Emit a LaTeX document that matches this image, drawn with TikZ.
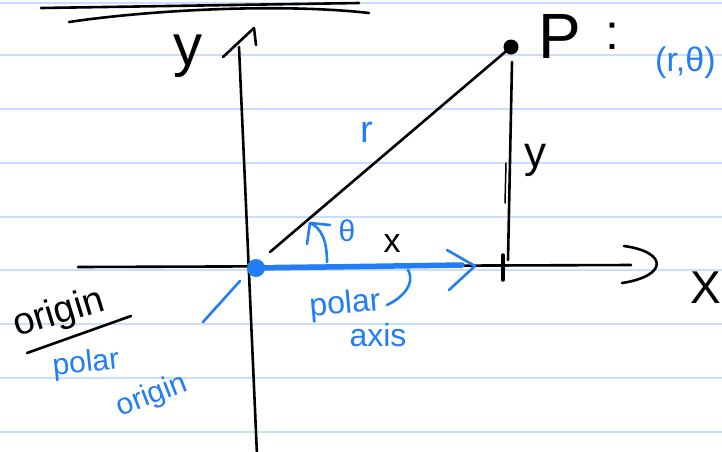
\documentclass[tikz,border=0pt]{standalone}
\usepackage{fontspec}
\setmainfont{Liberation Sans}
\definecolor{rulecol}{RGB}{200,222,250}
\definecolor{pen}{RGB}{35,125,245}
\tikzset{
  ruled/.style={draw=rulecol, line width=2pt},
  ink/.style={draw=black, line width=2.6pt, line cap=round, line join=round},
  bink/.style={draw=pen, line width=2.6pt, line cap=round, line join=round},
  blab/.style={text=pen, inner sep=0pt},
  klab/.style={text=black, inner sep=0pt},
}
\newcommand{\fs}[1]{\fontsize{#1}{#1}\selectfont}
\begin{document}
\begin{tikzpicture}[x=1pt,y=-1pt]
\useasboundingbox (0,0) rectangle (722,451);
\clip (0,0) rectangle (722,451);
\fill[white] (0,0) rectangle (722,451);
% ruled paper
\foreach \yy in {3,55,109,163,217,270,324,378,432}
  \draw[ruled] (0,\yy) -- (722,\yy);
% title underline
\coordinate (u1a) at (41,8);  \coordinate (u1b) at (359,3);
\coordinate (u2a) at (69,22); \coordinate (u2b) at (369,13);
\draw[ink] (u1a) -- (u1b);
\draw[ink] (u2a) .. controls (150,10) and (280,3) .. (u2b);
% y axis
\coordinate (ybot) at (257,455); \coordinate (ytop) at (239,47);
\coordinate (ytip) at (254,28); \coordinate (yarmL) at (223,57); \coordinate (yarmR) at (256,45);
\draw[ink] (ybot) -- (ytop);
\draw[ink] (yarmL) -- (ytip) -- (yarmR);
\node[klab, font=\fs{58}] (ylab) at (188,56) {y};
% x axis
\coordinate (xl) at (78,267); \coordinate (xr) at (631,265);
\coordinate (xha) at (624,246); \coordinate (xhb) at (622,283);
\draw[ink] (xl) -- (xr);
\draw[ink] (xha) .. controls (668,252) and (668,276) .. (xhb);
\node[klab, font=\fs{46}] (xlab) at (706,288) {X};
% point P
\node[circle, fill=black, inner sep=0pt, minimum size=15pt] (P) at (511,47) {};
\node[klab, font=\fs{64}] (Plab) at (560,36) {P};
\node[klab, font=\fs{50}] (colon) at (612,36) {:};
\node[blab, font=\fs{34}, anchor=west] (rtheta) at (655,63) {(r,θ)};
% hypotenuse r
\coordinate (hs) at (270,252);
\draw[ink] (hs) -- (P.center);
\node[blab, font=\fs{38}] (rlab) at (367,132) {r};
% vertical y
\coordinate (vtop) at (512,62); \coordinate (vbot) at (508,260);
\coordinate (v2a) at (506,163); \coordinate (v2b) at (505,203);
\draw[ink] (vtop) -- (vbot);
\draw[ink, line width=1.5pt] (v2a) -- (v2b);
\node[klab, font=\fs{44}] (yseg) at (535,160) {y};
% tick at x
\coordinate (ta) at (503,255); \coordinate (tb) at (503,280);
\draw[ink, line width=3.5pt] (ta) -- (tb);
\node[klab, font=\fs{34}] (xseg) at (392,244) {x};
% polar axis (blue)
\node[circle, fill=pen, inner sep=0pt, minimum size=18pt] (O) at (256,268) {};
\coordinate (pa) at (462,265);
\coordinate (pha) at (447,250); \coordinate (phb) at (475,266); \coordinate (phc) at (449,290);
\draw[bink, line width=5.5pt] (O.center) -- (pa);
\draw[bink] (pha) -- (phb) -- (phc);
% theta arc
\coordinate (ta0) at (327,262); \coordinate (ttip) at (310,223);
\coordinate (tarmL) at (307,244); \coordinate (tarmR) at (330,225);
\draw[bink] (ta0) .. controls (327,242) and (322,228) .. (ttip);
\draw[bink] (tarmL) -- (ttip) -- (tarmR);
\node[blab, font=\fs{30}] (thlab) at (347,231) {θ};
% polar axis label
\coordinate (la) at (408,270); \coordinate (lb) at (387,305);
\draw[bink] (la) .. controls (416,284) and (402,298) .. (lb);
\node[blab, font=\fs{32}, rotate=5] (polar1) at (345,305) {polar};
\node[blab, font=\fs{32}] (axis1) at (378,335) {axis};
% origin labels
\coordinate (oa) at (240,281); \coordinate (ob) at (203,322);
\draw[bink] (oa) -- (ob);
\node[klab, font=\fs{38}, rotate=17] (orig1) at (59,314) {origin};
\coordinate (ula) at (27,353); \coordinate (ulb) at (131,316);
\draw[ink] (ula) -- (ulb);
\node[blab, font=\fs{30}, rotate=6] (polar2) at (86,364) {polar};
\node[blab, font=\fs{30}, rotate=21] (orig2) at (152,396) {origin};
\end{tikzpicture}
\end{document}
